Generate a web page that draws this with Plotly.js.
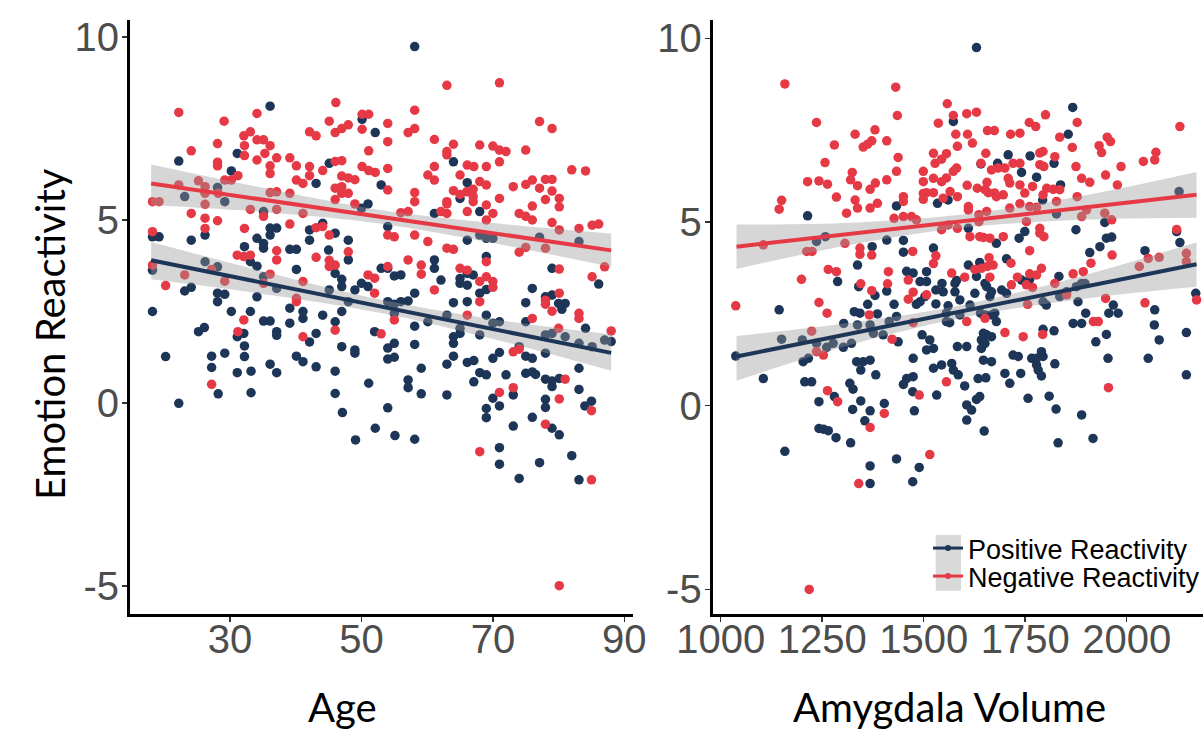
<!DOCTYPE html>
<html><head><meta charset="utf-8">
<script src="https://cdn.plot.ly/plotly-3.0.1.min.js"></script>
<style>html,body{margin:0;padding:0;background:#fff;}#c{width:1203px;height:730px;}</style>
</head><body><div id="c"></div>
<script>
// ---- Data ----
// Left panel: Age vs Emotion Reactivity, [age, value]
const agePositive = [
[36.1,8.11],[50.1,7.75],[52.1,7.39],[22.2,6.61],[31.1,6.82],[30.2,6.34],[45.1,6.55],[43.1,6.0],[53,5.96],[28.1,5.89],
[23.1,5.64],[29.2,5.5],[51,5.44],[50,5.32],[35.1,5.23],[18.2,4.54],[19.2,4.54],[24.1,4.45],[26.2,4.59],[36.1,4.78],
[37.1,4.78],[36.1,4.59],[34.1,4.5],[42.1,4.73],[44.1,4.91],[42.1,4.45],[46,4.64],[48,4.45],[54,4.82],[32.2,4.27],
[35.1,4.36],[35.1,4.23],[39.1,4.2],[40.1,4.2],[45,4.18],[48,3.91],[33.1,3.86],[34.1,3.74],[18.2,3.63],[26.2,3.86],
[28.1,3.72],[40.1,3.65],[46,3.54],[47,3.38],[47,3.18],[53,3.68],[54,3.68],[55,3.47],[35.1,3.45],[50,3.27],
[51,3.18],[23.1,3.06],[24.1,3.16],[28.1,3.0],[29.2,2.97],[28.1,2.77],[34.1,2.9],[37.1,3.13],[45.1,3.09],[49,3.09],
[54,2.77],[55,2.7],[18.2,2.5],[30.2,2.5],[33.1,2.5],[39.1,2.59],[41.1,2.5],[41.1,2.31],[44.1,2.4],[47,2.5],
[48,2.77],[35.1,2.24],[36.1,2.24],[39.1,2.18],[46,2.22],[55,2.45],[25.2,1.95],[26.1,2.06],[31.1,1.81],[32.1,1.9],
[37.1,1.95],[37.1,1.85],[43.1,1.9],[52,1.95],[42.1,1.67],[47,1.54],[49,1.45],[49,1.36],[54,1.5],[55,1.63],
[20.2,1.27],[27.2,1.28],[29.2,1.36],[32.2,1.27],[40.1,1.28],[32.2,1.56],[27.2,0.97],[31.1,0.83],[33.2,0.87],[36.1,1.06],
[37.1,0.83],[41.1,1.13],[43.1,0.99],[46,0.87],[54,1.2],[55,1.25],[28.2,0.25],[33.2,0.28],[22.2,-0.01],[46,0.26],
[51.1,0.54],[47.1,-0.26],[54,-0.13],[52.1,-0.69],[49.1,-1.01],[55.1,-0.89],
[58.1,9.74],[64,6.59],[66.1,6.02],[65,5.59],[68,5.23],[61.1,5.18],[66.1,4.45],[68,4.59],[69,4.5],[70,4.5],
[77.1,4.53],[83.1,4.41],[69,4.0],[61.1,3.91],[61.1,3.68],[62.1,3.36],[65,3.4],[66.1,3.54],[67,3.5],[66.1,3.22],
[65,3.27],[68,3.0],[69,3.1],[56,3.5],[58.1,3.0],[57.1,2.79],[56,2.77],[79,3.68],[86.1,3.25],[75,2.74],
[76,3.13],[78,2.9],[79,2.95],[80,2.72],[81,2.72],[80.5,2.56],[64,2.74],[66.1,2.77],[69,2.4],[60.1,2.22],
[63,2.4],[70,2.18],[71,2.22],[75,2.22],[84.1,2.04],[58.1,2.1],[65,2.04],[65,1.9],[64,1.81],[64,1.63],
[68,1.86],[78,1.86],[79,1.9],[81,1.81],[83.1,1.63],[85.1,1.54],[87,1.72],[88,1.68],[58.1,1.6],[74,1.54],
[71,1.38],[78,1.36],[64,1.28],[70,1.22],[75,1.28],[76,1.22],[59.1,0.95],[63,1.06],[66.1,1.11],[67.1,1.16],
[68,0.83],[69,0.77],[67.1,0.58],[72,0.77],[75,0.81],[76,0.85],[76.5,0.78],[78,0.65],[79,0.6],[80.1,0.67],
[79,0.45],[83.1,0.95],[57.1,0.63],[57.1,0.42],[59.1,0.25],[63,0.22],[70,0.13],[73.1,0.22],[71,-0.08],[69,-0.15],
[69,-0.4],[78,0.1],[78,-0.12],[83.1,0.37],[84,-0.08],[85,0.05],[76,-0.39],[73.1,-0.63],[79,-0.69],[80.1,-0.87],
[58.1,-0.99],[71,-1.22],[71,-1.67],[77.1,-1.63],[82,-1.44],[74,-2.06],[83.1,-2.1]
];
const ageNegative = [
[22.2,7.94],[29.1,7.70],[34.1,7.91],[46.1,8.21],[50.1,7.89],[51.1,7.89],[45.1,7.70],[54.0,7.64],[46.0,7.39],[47.0,7.50],
[48.0,7.60],[50.1,7.48],[42.1,7.41],[43.1,7.30],[32.1,7.30],[33.1,7.41],[34.1,7.19],[35.1,7.19],[32.2,7.03],[36.1,7.03],
[28.1,7.09],[24.1,6.89],[51.1,6.89],[54.0,7.14],[35.3,6.82],[34.1,6.64],[32.2,6.76],[37.1,6.70],[36.1,6.48],[36.1,6.27],
[28.1,6.58],[28.1,6.48],[39.1,6.70],[40.1,6.48],[42.1,6.46],[44.1,6.35],[42.1,6.21],[46,6.6],[47,6.62],[50.1,6.46],
[51.1,6.35],[52.1,6.30],[54.0,6.41],[31.2,6.21],[29.2,6.09],[30.2,6.09],[40.1,6.09],[41.1,6.0],[47,6.2],[48,6.15],
[49,6.1],[46,5.87],[47,5.91],[48,5.73],[47,5.73],[46,5.56],[49,5.44],[54,5.82],[22.2,5.96],[25.2,6.07],
[26.2,5.91],[26.2,5.73],[28.2,5.73],[36.1,5.75],[37.1,5.77],[39.1,5.73],[18.2,5.5],[19.2,5.5],[26.2,5.43],[33.1,5.29],
[37.1,5.29],[41.1,5.18],[24.1,5.18],[26.2,5.05],[28.1,4.98],[26.2,4.77],[35.1,5.1],[39.1,4.89],[18.2,4.68],[32.2,4.77],
[43.1,4.79],[44.1,4.82],[45.1,4.59],[54,4.59],[55,4.54],[31.1,4.04],[32.1,4.0],[33.1,4.04],[37.1,4.16],[37.1,3.91],
[43.1,3.98],[45.1,3.9],[46,3.77],[45.1,3.73],[48,4.13],[54,3.73],[18.2,3.77],[27.2,3.65],[23.1,3.5],[36.1,3.52],
[51,3.5],[52,3.41],[29.2,3.33],[35.1,3.27],[41.1,3.32],[20.2,3.21],[52,3.0],[40.1,2.86],[40.1,2.77],[55,2.27],
[32.1,2.27],[31.2,1.95],[46,1.99],[53,1.89],[41.1,1.81],[27.2,0.51],
[63.0,8.68],[71.0,8.75],[58.1,8.0],[57.1,7.39],[58.1,7.5],[61.1,7.2],[64.0,7.07],[63.0,6.87],[63.0,6.78],[68,7.05],
[70,7.02],[71,6.91],[72,6.87],[75,6.91],[77.1,7.69],[79,7.5],[71,6.59],[66.1,6.5],[67.1,6.46],[69,6.46],
[61.1,6.46],[60.1,6.23],[61.1,6.09],[65,6.23],[64,5.8],[65,5.7],[66,5.77],[67,5.84],[67,5.64],[67,5.5],
[68,6.05],[69,5.96],[58.1,5.75],[58.1,5.5],[63,5.5],[63,5.44],[71,5.59],[73.1,5.91],[75,5.97],[76,6.09],
[77.1,5.87],[78,6.11],[79,6.11],[78,5.56],[79,5.79],[80.1,5.59],[80.1,5.36],[76,5.38],[82,6.37],[84.1,6.34],
[69,5.41],[70,5.18],[62.1,5.23],[63,5.18],[66.1,5.23],[56,5.2],[57.1,5.23],[74,5.18],[75,5.1],[76,5.0],
[69,5.0],[79,4.93],[80.1,4.73],[85.1,4.86],[86.1,4.89],[83.1,4.77],[58.1,4.59],[60.1,4.41],[63,4.23],[64,4.2],
[74,4.12],[75,4.25],[78,4.23],[57.1,3.91],[69,3.86],[59.1,3.77],[59.1,3.52],[65,3.68],[66.1,3.63],[68,3.32],
[69,3.45],[70,3.32],[70,3.16],[61.1,3.09],[80.1,3.66],[85.1,3.45],[87,3.72],[80.1,3.0],[68,2.77],[78,2.81],
[78,2.7],[79,2.51],[66.1,2.4],[76,2.31],[83.1,2.45],[83.1,2.31],[80,2.04],[88,1.97],[73.1,1.4],[74,1.47],
[71,0.29],[73.1,0.42],[81,0.65],[80.1,0.11],[85,-0.21],[78,-0.58],[68,-1.33],[85,-2.1],[80.1,-4.99]
];
// Right panel: Amygdala Volume vs Emotion Reactivity, [volume, value]
const volPositive = [
[1214,5.17],[1433,5.44],[1534,5.51],[1258,4.6],[1236,4.47],[1373,4.33],[1409,4.51],[1450,4.5],[1450,4.18],[1524,4.29],
[1337,3.83],[1458,3.66],[1474,3.61],[1507,3.65],[1491,3.38],[1507,3.38],[1288,3.38],[1340,3.24],[1380,3.0],[1409,3.12],
[1530,3.15],[1530,2.77],[1503,2.97],[1491,2.83],[1482,2.76],[1362,2.76],[1427,2.76],[1144,2.61],[1329,2.56],[1343,2.52],
[1386,2.5],[1433,2.43],[1303,2.24],[1337,2.2],[1368,2.2],[1415,2.29],[1496,1.93],[1515,1.79],[1524,1.56],[1150,1.81],
[1201,1.79],[1236,1.7],[1261,1.59],[1277,1.7],[1302,1.59],[1322,1.7],[1376,1.97],[1400,1.93],[1437,1.74],[1037,1.35],
[1474,1.29],[1507,1.52],
[1105,0.74],[1203,1.2],[1216,1.29],[1207,0.65],[1224,0.65],[1335,1.2],[1351,1.2],[1368,1.24],[1345,0.97],[1382,0.84],
[1474,0.79],[1450,0.58],[1458,0.74],[1473,0.38],[1524,1.02],[1532,0.29],[1318,0.61],[1326,0.45],[1242,0.11],[1280,0.25],
[1345,0.13],[1403,0.06],[1325,-0.1],[1368,-0.14],[1477,-0.14],[1355,-0.41],[1242,-0.62],[1253,-0.64],[1265,-0.68],[1284,-0.87],
[1320,-1.01],[1158,-1.24],[1433,-1.45],[1368,-1.64],[1489,-1.68],[1368,-2.12],[1473,-2.07],
[1630,9.75],[1867,8.12],[1856,7.39],[1573,7.74],[1708,6.83],[1762,6.8],[1641,6.58],[1682,6.6],[1741,6.35],[1778,6.22],
[1821,6.6],[1837,6.01],[1560,5.6],[1793,5.6],[1827,5.22],[1610,4.83],[1749,4.74],[1735,4.56],[1875,4.79],[1946,4.99],
[1963,4.59],[1950,4.56],[1934,4.33],[1909,4.17],[2129,5.83],[2123,4.74],[2131,4.44],[2045,4.22],[1704,4.0],[1638,3.9],
[1610,3.83],[1630,3.52],[1679,4.42],[1545,3.33],[1577,3.33],[1581,3.41],[1548,3.1],[1577,3.1],[1626,3.06],[1663,2.97],
[1667,3.1],[1692,3.15],[1704,3.06],[1651,3.33],[1655,3.24],[1589,2.88],[1560,2.72],[1614,2.74],[1556,2.52],[1556,2.29],
[1589,2.47],[1564,2.26],[1640,2.52],[1651,2.47],[1679,2.29],[1667,2.47],[1675,2.52],[1647,1.97],[1655,1.93],[1667,1.88],
[1642,1.79],[1606,1.61],[1642,1.56],[1651,1.7],[1583,1.61],[1720,1.38],[1733,1.34],[1766,1.29],[1790,1.47],[1741,3.42],
[1761,3.44],[1833,3.52],[1876,3.24],[1889,3.33],[1897,3.33],[1835,2.97],[1852,3.1],[1880,2.83],[1794,2.83],[1802,2.74],
[1899,2.52],[1868,2.24],[1889,2.24],[1821,2.04],[1794,2.08],[1924,1.74],[1950,1.94],[1956,2.52],[1979,2.52],[1967,2.74],
[2069,2.61],[2068,2.2],[2080,1.79],[2147,1.99],[2170,3.06],[1954,1.29],[2053,1.29],[1778,1.29],[1794,1.34],
[1544,1.11],[1569,1.15],[1573,0.97],[1585,0.84],[1601,0.54],[1634,0.74],[1653,0.76],[1647,1.24],[1667,1.2],[1638,0.25],
[1630,0.17],[1606,0.02],[1618,-0.12],[1606,-0.39],[1649,-0.69],[1700,0.88],[1712,0.61],[1739,0.88],[1778,1.11],[1790,0.81],
[1782,0.97],[1757,0.2],[1809,0.26],[1823,1.14],[1826,-0.09],[1831,-1.01],[1889,-0.25],[1917,-0.89],[2147,0.84]
];
const volNegative = [
[1158,8.76],[1431,8.67],[1435,7.9],[1236,7.71],[1331,7.39],[1380,7.51],[1280,7.1],[1351,7.04],[1362,7.12],[1372,7.21],
[1409,7.21],[1257,6.62],[1437,6.76],[1433,6.38],[1324,6.35],[1320,6.15],[1214,6.1],[1242,6.12],[1263,6.03],[1337,5.99],
[1381,6.06],[1368,5.89],[1409,6.15],[1285,5.68],[1150,5.59],[1144,5.35],[1331,5.6],[1337,5.38],[1386,5.51],[1368,5.38],
[1450,5.69],[1450,5.56],[1310,5.24],[1427,5.1],[1450,5.15],[1470,5.15],[1482,5.06],[1499,5.78],[1507,5.8],[1524,5.8],
[1499,5.62],[1499,6.38],[1499,6.1],[1524,6.19],[1524,6.87],[1536,7.69],[1528,6.6],[1105,4.38],[1212,4.2],[1225,4.2],
[1306,4.42],[1343,4.29],[1343,4.12],[1372,4.1],[1473,4.2],[1530,4.08],[1524,3.87],[1265,3.71],[1285,3.65],[1413,3.65],
[1199,3.44],[1462,3.42],[1345,3.32],[1411,3.32],[1372,3.13],[1462,2.9],[1474,3.09],[1507,3.02],[1037,2.72],[1242,2.81],
[1262,2.52],[1366,2.47],[1224,2.03],[1422,1.81],[1474,2.26],[1236,1.47],[1253,1.38],
[1263,0.41],[1288,0.11],[1403,-0.21],[1368,-0.59],[1489,0.29],[1515,-1.33],[1340,-2.12],[1218,-5.0],
[1558,8.22],[1573,7.9],[1606,7.95],[1630,7.99],[1579,7.39],[1608,7.39],[1620,7.15],[1583,7.06],[1657,7.49],[1674,7.49],
[1714,7.39],[1737,7.42],[1760,7.71],[1776,7.6],[1800,7.92],[1878,7.71],[1835,7.31],[1866,7.03],[1932,7.08],[1938,6.89],
[1952,7.31],[1960,7.19],[2131,7.6],[2041,6.65],[2069,6.69],[2072,6.9],[1986,6.51],[1948,6.28],[1875,6.51],[1889,6.19],
[1909,6.08],[1977,6.01],[1653,6.87],[1641,6.6],[1556,6.86],[1544,6.71],[1581,6.47],[1573,6.38],[1556,6.2],[1544,6.1],
[1607,6.0],[1632,5.92],[1656,6.08],[1667,6.42],[1683,6.47],[1700,6.47],[1708,6.19],[1712,6.06],[1720,6.6],[1737,6.6],
[1786,6.88],[1794,6.92],[1786,6.56],[1796,6.51],[1823,6.78],[1737,6.01],[1749,5.79],[1768,5.97],[1803,5.92],[1819,5.89],
[1835,5.88],[1675,5.79],[1679,5.69],[1696,5.74],[1651,5.88],[1659,5.8],[1794,5.74],[1878,5.69],[1712,5.38],[1737,5.5],
[1761,5.42],[1778,5.4],[1827,5.56],[1655,5.29],[1636,5.2],[1610,5.42],[1610,5.33],[1583,5.69],[1565,5.83],[1548,5.65],
[1583,4.83],[1560,4.92],[1544,4.79],[1636,5.01],[1753,5.01],[1889,5.15],[1901,5.33],[1946,5.24],[1963,5.06],[1696,4.6],
[1638,4.6],[1647,4.58],[1663,4.56],[1614,4.6],[1786,4.83],[1786,4.7],[1796,4.6],[1761,4.22],[2123,4.8],[1964,4.1],
[1912,3.88],[2053,4.01],[2080,4.04],[2031,3.79],[2147,4.15],[2147,3.92],[1661,4.03],[1671,3.83],[1657,3.79],[1642,3.74],
[1626,3.71],[1663,3.5],[1715,3.88],[1569,3.61],[1601,3.5],[1790,3.74],[1778,3.56],[1761,3.59],[1731,3.5],[1716,3.29],
[1753,3.29],[1768,3.22],[1868,3.59],[1893,3.65],[1823,3.33],[1852,3.02],[1756,2.76],[1948,2.92],[2045,2.8],[2172,2.88],
[1606,2.29],[1651,2.38],[1918,2.29],[1930,2.29],[1700,1.99],[1745,1.88],[1793,1.94],[1556,0.65],[1955,0.49]
];
// Fitted lines with confidence bands
const fitAge = [18, 35, 53, 70, 88];
const fitAgeNeg = [6.0, 5.55, 5.08, 4.64, 4.17];
const fitAgeNegLo = [5.4, 5.22, 4.9, 4.37, 3.72];
const fitAgeNegHi = [6.52, 5.88, 5.27, 4.92, 4.63];
const fitAgePos = [3.9, 3.29, 2.64, 2.02, 1.37];
const fitAgePosLo = [3.38, 2.98, 2.46, 1.75, 0.88];
const fitAgePosHi = [4.40, 3.6, 2.82, 2.29, 1.88];
const fitVol = [1039, 1320, 1600, 1885, 2172];
const fitVolNeg = [4.33, 4.68, 5.03, 5.38, 5.74];
const fitVolNegLo = [3.72, 4.38, 4.85, 5.06, 5.12];
const fitVolNegHi = [4.93, 4.98, 5.21, 5.70, 6.36];
const fitVolPos = [1.34, 1.96, 2.58, 3.21, 3.85];
const fitVolPosLo = [0.68, 1.66, 2.41, 2.9, 3.24];
const fitVolPosHi = [1.9, 2.26, 2.75, 3.52, 4.45];

const ageTicks = [30, 50, 70, 90];
const volTicks = [1000, 1250, 1500, 1750, 2000];
const yTicks = [-5, 0, 5, 10];
const yTickText = ['-5', '0', '5', '10'];
const seriesNames = ['Positive Reactivity', 'Negative Reactivity'];

// ---- Styling ----
const NAVY = '#1D3557', RED = '#E63946', BAND = 'rgba(153,153,153,0.4)';
const W = 1203, H = 730;
const L = {left:130, right:633}, R = {left:712.7, right:1203};
const TOP = 20, BOT = 614;

function pts(pairs, color, xa, ya) {
  return {type:'scatter', mode:'markers', x:pairs.map(p=>p[0]), y:pairs.map(p=>p[1]),
    xaxis:xa, yaxis:ya, showlegend:false, hoverinfo:'skip',
    marker:{color:color, size:9.5, line:{width:0}}};
}
function band(xs, lo, hi, xa, ya) {
  return [
    {type:'scatter', mode:'lines', x:xs, y:lo, xaxis:xa, yaxis:ya, line:{width:0, shape:'spline'}, showlegend:false, hoverinfo:'skip'},
    {type:'scatter', mode:'lines', x:xs, y:hi, xaxis:xa, yaxis:ya, line:{width:0, shape:'spline'}, fill:'tonexty', fillcolor:BAND, showlegend:false, hoverinfo:'skip'}
  ];
}
function fit(xs, ys, color, xa, ya) {
  return {type:'scatter', mode:'lines', x:[xs[0], xs[xs.length-1]], y:[ys[0], ys[ys.length-1]], xaxis:xa, yaxis:ya,
    line:{color:color, width:4}, showlegend:false, hoverinfo:'skip'};
}

const traces = [
  pts(agePositive, NAVY, 'x', 'y'),
  pts(ageNegative, RED, 'x', 'y'),
  pts(volPositive, NAVY, 'x2', 'y2'),
  pts(volNegative, RED, 'x2', 'y2'),
  ...band(fitAge, fitAgeNegLo, fitAgeNegHi, 'x', 'y'),
  ...band(fitAge, fitAgePosLo, fitAgePosHi, 'x', 'y'),
  ...band(fitVol, fitVolNegLo, fitVolNegHi, 'x2', 'y2'),
  ...band(fitVol, fitVolPosLo, fitVolPosHi, 'x2', 'y2'),
  fit(fitAge, fitAgeNeg, RED, 'x', 'y'),
  fit(fitAge, fitAgePos, NAVY, 'x', 'y'),
  fit(fitVol, fitVolNeg, RED, 'x2', 'y2'),
  fit(fitVol, fitVolPos, NAVY, 'x2', 'y2'),
  {type:'scatter', mode:'lines+markers', x:[null], y:[null], xaxis:'x2', yaxis:'y2', name:seriesNames[0],
    legend:'legend', line:{color:NAVY, width:3}, marker:{color:NAVY, size:6}},
  {type:'scatter', mode:'lines+markers', x:[null], y:[null], xaxis:'x2', yaxis:'y2', name:seriesNames[1],
    legend:'legend2', line:{color:RED, width:3}, marker:{color:RED, size:6}}
];

const tickFont = {family:'Liberation Sans, Arial, sans-serif', size:40, color:'#4D4D4D'};
function axisBase(extra) {
  return Object.assign({showline:true, linecolor:'#000', linewidth:3, ticks:'outside', ticklen:5,
    tickwidth:1.5, tickcolor:'#333', showgrid:false, zeroline:false, tickfont:tickFont,
    tickmode:'array', fixedrange:true, automargin:false}, extra);
}
const fy = v => (BOT - v) / (BOT - TOP);   // pixel y -> plot fraction
const legFont = {family:'Liberation Sans, Arial, sans-serif', size:27, color:'#000'};
function leg(topPx) {
  return {x:928/W, xanchor:'left', y:fy(topPx), yanchor:'top', bgcolor:'rgba(0,0,0,0)',
    font:legFont, traceorder:'normal', itemwidth:30, borderwidth:0};
}

const titleFont = {family:'Lato, Open Sans, sans-serif', size:40, color:'#000'};
const layout = {
  width:W, height:H, margin:{l:0, r:0, t:TOP, b:H-BOT, autoexpand:false},
  paper_bgcolor:'#fff', plot_bgcolor:'rgba(0,0,0,0)',
  showlegend:true,
  xaxis: axisBase({domain:[L.left/W, L.right/W], range:[14.78, 91.32], tickvals:ageTicks, anchor:'y', ticklabelstandoff:-17}),
  yaxis: axisBase({domain:[0,1], range:[-5.765, 10.465], tickvals:yTicks, ticktext:yTickText, anchor:'x', ticklabelstandoff:-5}),
  xaxis2: axisBase({domain:[R.left/W, 1], range:[980.3, 2187.9], tickvals:volTicks, anchor:'y2', ticklabelstandoff:-17}),
  yaxis2: axisBase({domain:[0,1], range:[-5.67, 10.50], tickvals:yTicks, ticktext:yTickText, anchor:'x2', ticklabelstandoff:-5}),
  legend: leg(524),
  legend2: leg(552),
  shapes:[{type:'rect', xref:'paper', yref:'paper', x0:935.7/W, x1:961/W, y0:fy(590.7), y1:fy(535),
    fillcolor:'#D9D9D9', line:{width:0}, layer:'above'}],
  annotations:[
    {text:'Age', xref:'paper', yref:'paper', x:342/W, y:fy(707), xanchor:'center', yanchor:'middle', showarrow:false, font:titleFont},
    {text:'Amygdala Volume', xref:'paper', yref:'paper', x:949/W, y:fy(707), xanchor:'center', yanchor:'middle', showarrow:false, font:titleFont},
    {text:'Emotion Reactivity', xref:'paper', yref:'paper', x:50/W, y:fy(334), xanchor:'center', yanchor:'middle', textangle:-90, showarrow:false, font:titleFont}
  ]
};
Plotly.newPlot('c', traces, layout, {staticPlot:true, displayModeBar:false});
</script></body></html>
